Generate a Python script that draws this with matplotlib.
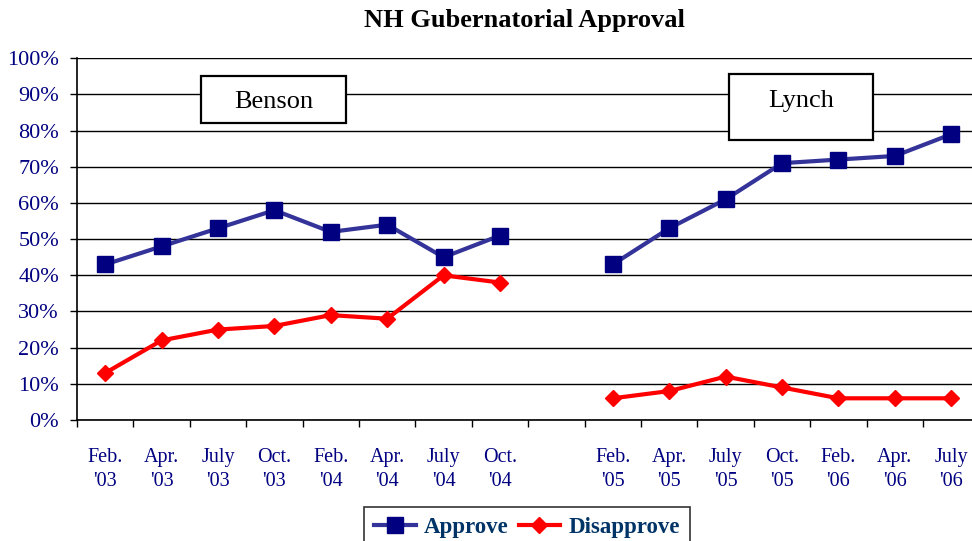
import numpy as np
import matplotlib
matplotlib.use("Agg")
import matplotlib.pyplot as plt
from matplotlib.patches import Rectangle
from matplotlib.lines import Line2D

#----------------------------------------------------------------------------------------------------------------------------------------
# data
#----------------------------------------------------------------------------------------------------------------------------------------
periodLabels = ["Feb.\n'03", "Apr.\n'03", "July\n'03", "Oct.\n'03", "Feb.\n'04", "Apr.\n'04", "July\n'04", "Oct.\n'04",
                "",
                "Feb.\n'05", "Apr.\n'05", "July\n'05", "Oct.\n'05", "Feb.\n'06", "Apr.\n'06", "July\n'06"]

bensonApprove = [43, 48, 53, 58, 52, 54, 45, 51]
bensonDisapprove = [13, 22, 25, 26, 29, 28, 40, 38]
lynchApprove = [43, 53, 61, 71, 72, 73, 79]
lynchDisapprove = [6, 8, 12, 9, 6, 6, 6]

yTicks = [0, 10, 20, 30, 40, 50, 60, 70, 80, 90, 100]

navy = "#000080"
approveLine = "#333399"
red = "#FF0000"
serif = "Liberation Serif"

W, H = 972, 541
fig = plt.figure(figsize=(W / 100, H / 100), dpi=100)
ax = fig.add_axes([77 / W, 1 - 420 / H, 16 * 56.4 / W, (420 - 58.3) / H])

xAll = np.arange(len(periodLabels))
xBenson = xAll[:len(bensonApprove)]
xLynch = xAll[len(bensonApprove) + 1:]

def drawSeries(x, values, lineColor, markerColor, marker, size):
    ax.plot(x, values, color=lineColor, linewidth=3, marker=marker, markersize=size,
            markerfacecolor=markerColor, markeredgecolor=markerColor, zorder=3, clip_on=False)

drawSeries(xBenson, bensonApprove, approveLine, navy, "s", 11)
drawSeries(xLynch, lynchApprove, approveLine, navy, "s", 11)
drawSeries(xBenson, bensonDisapprove, red, red, "D", 8)
drawSeries(xLynch, lynchDisapprove, red, red, "D", 8)

ax.set_xlim(-0.5, len(periodLabels) - 0.5)
ax.set_ylim(0, 100)
ax.set_yticks(yTicks)
ax.set_yticklabels([str(t) + "%" for t in yTicks], fontfamily=serif, fontsize=16, color=navy)
ax.yaxis.grid(True, color="black", linewidth=1)
ax.set_axisbelow(True)

ax.set_xticks(np.arange(-0.5, len(periodLabels), 1.0))
ax.set_xticklabels([])
ax.set_xticks(xAll, minor=True)
ax.set_xticklabels(periodLabels, minor=True, fontfamily=serif, fontsize=14.5, color=navy, linespacing=1.4)
ax.tick_params(axis="x", which="major", direction="out", length=5, width=1)
ax.tick_params(axis="x", which="minor", length=0, pad=20)
ax.tick_params(axis="y", direction="out", length=5, width=1, pad=8)

for side in ["top", "right"]:
    ax.spines[side].set_visible(False)
for side in ["left", "bottom"]:
    ax.spines[side].set_linewidth(1.2)

fig.text(524 / W, 1 - 21 / H, "NH Gubernatorial Approval", ha="center", va="center",
         fontfamily=serif, fontsize=19, fontweight="bold", color="black")

# candidate name boxes
for name, x0, y0, x1, y1, ty in [("Benson", 201, 76, 346, 123, 102), ("Lynch", 729, 74, 873, 140, 101)]:
    fig.patches.append(Rectangle((x0 / W, 1 - y1 / H), (x1 - x0) / W, (y1 - y0) / H,
                                 transform=fig.transFigure, facecolor="white", edgecolor="black",
                                 linewidth=1.6, zorder=5))
    fig.text((x0 + x1) / 2 / W, 1 - ty / H, name, ha="center", va="center",
             fontfamily=serif, fontsize=19, color="black", zorder=6)

legendHandles = [
    Line2D([], [], color=approveLine, linewidth=3, marker="s", markersize=11,
           markerfacecolor=navy, markeredgecolor=navy),
    Line2D([], [], color=red, linewidth=3, marker="D", markersize=8,
           markerfacecolor=red, markeredgecolor=red),
]
leg = fig.legend(legendHandles, ["Approve", "Disapprove"], loc="upper center",
                 bbox_to_anchor=(527 / W, 1 - 507 / H), ncol=2, frameon=True, fancybox=False,
                 prop={"family": serif, "size": 16.5, "weight": "bold"}, handlelength=1.8,
                 columnspacing=0.45, handletextpad=0.35, borderpad=0.45, borderaxespad=0)
leg.get_frame().set_edgecolor("black")
leg.get_frame().set_linewidth(1.2)
for t in leg.get_texts():
    t.set_color("#003366")

fig.savefig("out.png", dpi=100)
